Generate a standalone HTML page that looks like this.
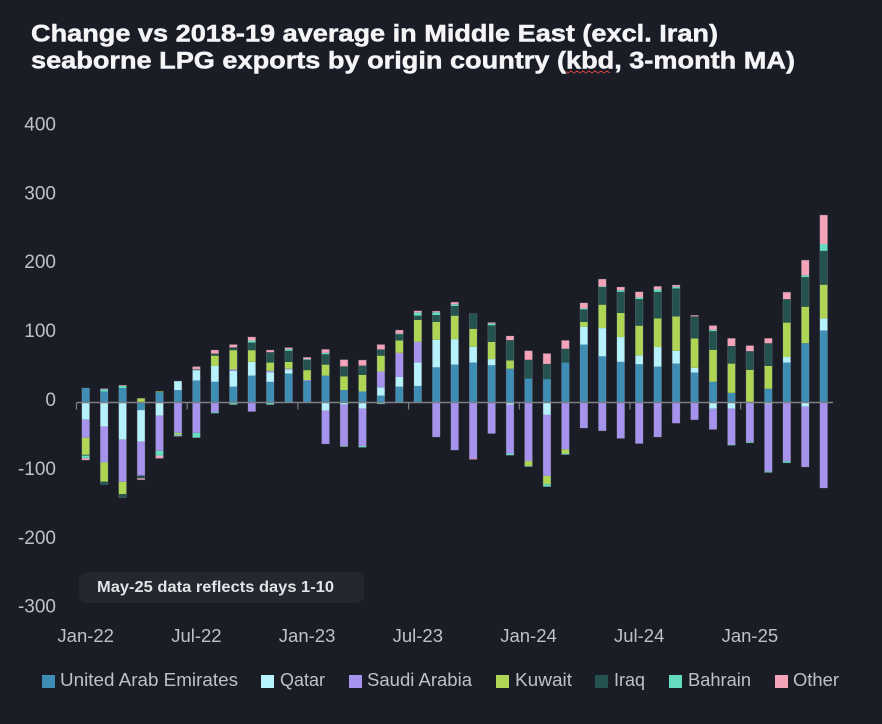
<!DOCTYPE html>
<html lang="en">
<head>
<meta charset="utf-8">
<title>Middle East seaborne LPG exports</title>
<style>
html,body{margin:0;padding:0;background:#1a1d26;}
body{width:882px;height:724px;overflow:hidden;}
svg{display:block;font-family:"Liberation Sans",sans-serif;}
</style>
</head>
<body>
<svg id="chart" width="882" height="724" viewBox="0 0 882 724" xmlns="http://www.w3.org/2000/svg">
  <rect width="882" height="724" fill="#1a1d26"/>
  <g fill="#f5f5f8" font-weight="700" font-size="24" stroke="#f5f5f8" stroke-width="0.5">
    <text x="31" y="41.7" textLength="687" lengthAdjust="spacingAndGlyphs">Change vs 2018-19 average in Middle East (excl. Iran)</text>
    <text x="31" y="68.5" textLength="764" lengthAdjust="spacingAndGlyphs">seaborne LPG exports by origin country (kbd, 3-month MA)</text>
  </g>
  <path d="M565 71 l3 2 l3 -2 l3 2 l3 -2 l3 2 l3 -2 l3 2 l3 -2 l3 2 l3 -2 l3 2 l3 -2 l3 2 l3 -2 l3 2" fill="none" stroke="#d9463f" stroke-width="0.9"/>
  <g id="y-axis"></g>
  <g id="bars"></g>
  <g id="x-axis"></g>
  <g>
    <rect x="79" y="572" width="285" height="31" rx="8" fill="#24272f"/>
    <text x="97" y="592" font-size="16" font-weight="700" fill="#e2e3e6" textLength="237" lengthAdjust="spacingAndGlyphs">May-25 data reflects days 1-10</text>
  </g>
  <g font-size="18.5" fill="#bfc1c5">
    <g><rect x="42" y="675" width="13" height="13" fill="#3d8db5"/><text x="60" y="686" textLength="178" lengthAdjust="spacingAndGlyphs">United Arab Emirates</text></g>
    <g><rect x="261" y="675" width="13" height="13" fill="#b5f2fb"/><text x="280" y="686" textLength="45" lengthAdjust="spacingAndGlyphs">Qatar</text></g>
    <g><rect x="349" y="675" width="13" height="13" fill="#a693ee"/><text x="367" y="686" textLength="105" lengthAdjust="spacingAndGlyphs">Saudi Arabia</text></g>
    <g><rect x="496" y="675" width="13" height="13" fill="#aed654"/><text x="515" y="686" textLength="57" lengthAdjust="spacingAndGlyphs">Kuwait</text></g>
    <g><rect x="595" y="675" width="13" height="13" fill="#24524e"/><text x="614" y="686" textLength="31" lengthAdjust="spacingAndGlyphs">Iraq</text></g>
    <g><rect x="669" y="675" width="13" height="13" fill="#63dcc0"/><text x="688" y="686" textLength="63" lengthAdjust="spacingAndGlyphs">Bahrain</text></g>
    <g><rect x="775" y="675" width="13" height="13" fill="#f5a3b9"/><text x="793" y="686" textLength="46" lengthAdjust="spacingAndGlyphs">Other</text></g>
  </g>
</svg>
<script>
const months = ["Jan-22","Feb-22","Mar-22","Apr-22","May-22","Jun-22","Jul-22","Aug-22","Sep-22","Oct-22","Nov-22","Dec-22","Jan-23","Feb-23","Mar-23","Apr-23","May-23","Jun-23","Jul-23","Aug-23","Sep-23","Oct-23","Nov-23","Dec-23","Jan-24","Feb-24","Mar-24","Apr-24","May-24","Jun-24","Jul-24","Aug-24","Sep-24","Oct-24","Nov-24","Dec-24","Jan-25","Feb-25","Mar-25","Apr-25","May-25"];
const yTicks = [400,300,200,100,0,-100,-200,-300];
const xTickMonths = ["Jan-22","Jul-22","Jan-23","Jul-23","Jan-24","Jul-24","Jan-25"];
const uae = [21,16,21,-11,15,18,32,30,23,39,30,42,31,39,18,16,10,23,24,51,55,58,54,49,35,34,58,84,67,59,55.5,52,56.5,43.5,30,14,0,20,58,86,104.5];
const qatar = [-25,-35,-54,-46,-19,13,15,23,23,20,14,6,0,-12,-3,-9,12,14,34,40,37,23,9,-3,0,-18,0,26,41,36,13,28.5,18.5,7,-9,-9,0,-2,8,-6,17.5];
const saudi = [-26,-52,-61,-49,-51,-44,-44,-14,2,-13,2,1,1.5,-48,-60,-54,23,35,30,-50,-69,-81,-45,-71,-85,-88.5,-68,-37,-41,-52,-59.5,-50,-30,-25,-30,-52,-57,-98,-85,-87.5,-124];
const kuwait = [-25,-28,-18,6,1,-2,0,15,28,17,12,10,14.5,16,20,24,23,18,32,26,34,26,25,12,-7,-12,-6,7,34,35,43,41.5,50,42.5,46.5,42.5,47.5,33,50,53,49];
const iraq = [-1,-4,-5,-4,0,0,1,3,4,11,15,16,15,15,14.5,13.5,9,9,6,10,14,22,24,29.5,27,22,20,18,25.5,30.5,38.5,38.5,40.5,32,27,25.5,27,33,34,43,49];
const bahrain = [-4,3,3,0,-7,-2,-7,-1.5,-3,3,-3,2.5,1,2,-1,-2,-2,1,4.5,4,2.5,0,2.5,-2.5,-1,-3.5,-1.5,1.5,1,2.5,2.5,3.5,2.5,0,2,-1,-1.5,-1.5,-2.5,2.5,10];
const other = [-2.5,1,1,-2,-4,-1,4,5,4,5,3,2,2.5,5,9.5,8,7,5,2.5,1.5,3,-1.5,1.5,6,13,15,12,8,10.5,4.5,8,4.5,2.5,1.5,6,11,8,7,10,22,42];

const seriesList = [
  {name:"uae", values:uae, color:"#3d8db5"},
  {name:"qatar", values:qatar, color:"#b5f2fb"},
  {name:"saudi-arabia", values:saudi, color:"#a693ee"},
  {name:"kuwait", values:kuwait, color:"#aed654"},
  {name:"iraq", values:iraq, color:"#24524e"},
  {name:"bahrain", values:bahrain, color:"#63dcc0"},
  {name:"other", values:other, color:"#f5a3b9"}
];

const NS = "http://www.w3.org/2000/svg";
const y0 = 402.5, pxPerUnit = 0.689, xStart = 85.7, step = 18.45, barW = 7.6;
function yScale(v){ return y0 - v * pxPerUnit; }
function xScale(i){ return xStart + i * step; }
function mk(parent, tag, attrs, text){
  const el = document.createElementNS(NS, tag);
  for (const k in attrs) el.setAttribute(k, attrs[k]);
  if (text !== undefined) el.textContent = text;
  parent.appendChild(el);
  return el;
}

const yAxis = document.getElementById("y-axis");
yTicks.forEach(function(v){
  const t = mk(yAxis, "text", {x:56, y:yScale(v)+3.5, "text-anchor":"end", "font-size":19, fill:"#bfc1c5"}, String(v));
  
  
});

const barsG = document.getElementById("bars");
months.forEach(function(m, i){
  let pos = 0, neg = 0;
  seriesList.forEach(function(s){
    const v = s.values[i];
    if (!v) return;
    let a, b;
    if (v > 0) { a = pos; b = pos + v; pos = b; }
    else { a = neg; b = neg + v; neg = b; }
    const top = yScale(Math.max(a, b));
    const h = Math.abs(yScale(a) - yScale(b));
    const r = mk(barsG, "rect", {x:xScale(i)-barW/2, y:top, width:barW, height:h, fill:s.color});
    
    
    r.setAttribute('data-series', s.name);
    r.setAttribute('data-month', m);
  });
  const outline = mk(barsG, "rect", {x:xScale(i)-barW/2, y:yScale(pos), width:barW, height:yScale(neg)-yScale(pos), fill:"none", stroke:"rgba(170,170,185,0.28)", "stroke-width":0.8});
  
  
});

const xAxis = document.getElementById("x-axis");
const axisLine = mk(xAxis, "line", {x1:xScale(0)-step/2, x2:833, y1:y0, y2:y0, stroke:"#7c7f85", "stroke-width":1.4});


xTickMonths.forEach(function(label){
  const i = months.indexOf(label);
  const tick = mk(xAxis, "line", {x1:xScale(i)-step/2, x2:xScale(i)-step/2, y1:y0, y2:y0+7, stroke:"#7c7f85", "stroke-width":1.2});
  
  
  const t = mk(xAxis, "text", {x:xScale(i), y:642, "text-anchor":"middle", "font-size":18.5, fill:"#bfc1c5"}, label);
  
  
});
</script>
</body>
</html>
